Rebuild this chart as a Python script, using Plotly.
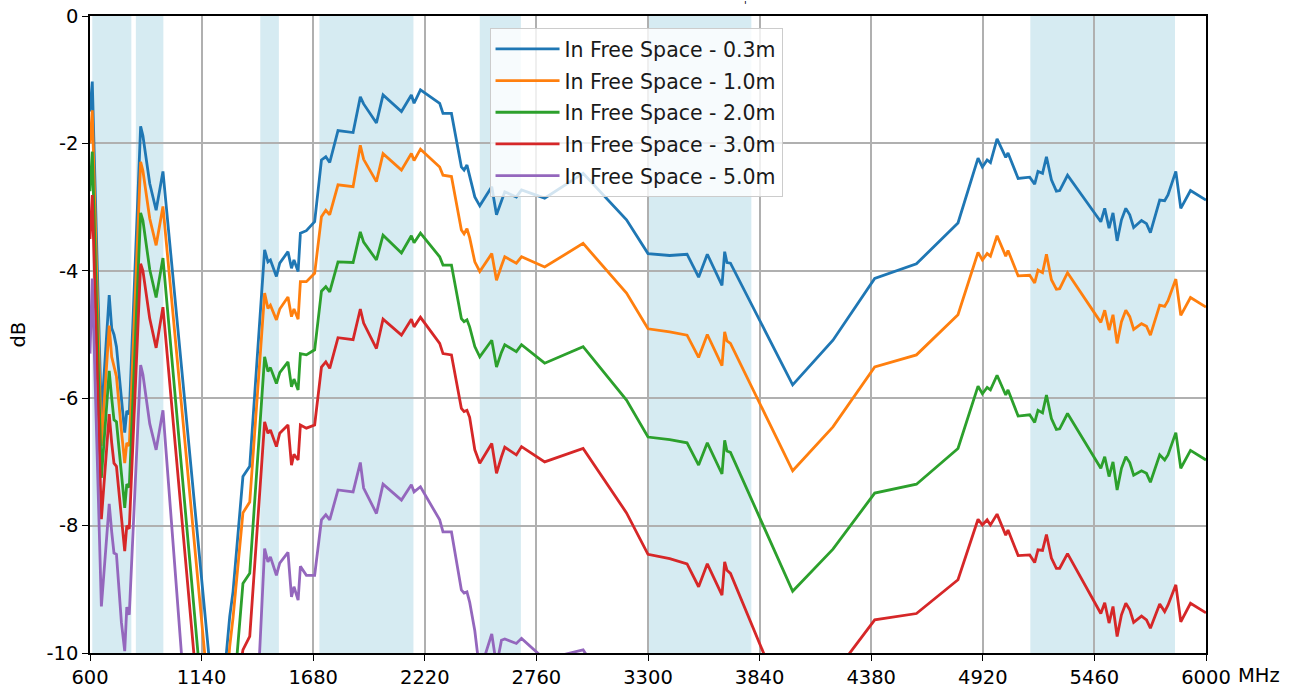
import plotly.graph_objects as go

freq_mhz = [600, 611, 655, 693, 705, 716, 728, 752, 768, 778, 790, 845, 856, 889, 920, 953,
            1218, 1276, 1292, 1340, 1373,
            1445, 1461, 1473, 1502, 1518, 1558, 1575, 1587, 1607, 1618, 1647, 1687,
            1720, 1741, 1760, 1800, 1873, 1908, 1924, 1986, 2018, 2107, 2155, 2168, 2199,
            2292, 2308, 2349, 2397, 2410, 2424, 2437, 2462, 2486, 2544, 2567, 2591, 2607, 2663, 2688, 2800, 2986,
            3196, 3300, 3405, 3489, 3545, 3587, 3658, 3671, 3682, 3699,
            4000, 4195, 4397, 4599, 4800,
            4897, 4918, 4941, 4957, 4989, 5031, 5042, 5091, 5147, 5171, 5187, 5209, 5228, 5252, 5276, 5292, 5330,
            5491, 5510, 5531, 5550, 5570, 5591, 5612, 5631, 5650, 5688, 5712, 5731, 5776, 5800, 5816, 5854, 5878, 5925, 6000]

loss_0_3m = [-1.50, -1.03, -6.30, -4.38, -4.90, -5.00, -5.19, -6.04, -6.54, -6.20, -6.25, -1.73, -1.88, -2.63, -3.05, -2.44,
             -11.5, -9.43, -9.04, -7.23, -7.07,
             -3.67, -3.86, -3.83, -4.09, -3.88, -3.70, -3.96, -3.83, -4.01, -3.41, -3.37, -3.23,
             -2.26, -2.21, -2.30, -1.80, -1.83, -1.27, -1.38, -1.68, -1.24, -1.50, -1.24, -1.37, -1.16,
             -1.37, -1.53, -1.53, -2.37, -2.42, -2.34, -2.50, -2.84, -2.98, -2.68, -3.12, -2.89, -2.76, -2.84, -2.73, -2.86, -2.47,
             -3.20, -3.73, -3.76, -3.74, -4.10, -3.74, -4.23, -3.70, -3.87, -3.88,
             -5.79, -5.09, -4.12, -3.89, -3.25,
             -2.23, -2.37, -2.26, -2.30, -1.93, -2.22, -2.15, -2.55, -2.53, -2.64, -2.44, -2.47, -2.21, -2.57, -2.75, -2.74, -2.50,
             -3.23, -3.02, -3.33, -3.09, -3.53, -3.20, -3.02, -3.12, -3.32, -3.21, -3.26, -3.40, -2.89, -2.90, -2.81, -2.44, -3.02, -2.74, -2.89]

loss_1_0m = [-2.00, -1.48, -6.75, -4.86, -5.35, -5.50, -5.66, -6.51, -7.02, -6.70, -6.75, -2.29, -2.43, -3.18, -3.60, -2.99,
             -12.2, -9.90, -9.45, -7.80, -7.63,
             -4.35, -4.59, -4.54, -4.77, -4.60, -4.41, -4.72, -4.60, -4.76, -4.17, -4.17, -4.04,
             -3.15, -3.05, -3.12, -2.65, -2.68, -2.03, -2.25, -2.60, -2.16, -2.42, -2.16, -2.27, -2.09,
             -2.37, -2.50, -2.52, -3.36, -3.42, -3.34, -3.48, -3.86, -4.01, -3.73, -4.15, -3.92, -3.78, -3.88, -3.78, -3.94, -3.57,
             -4.35, -4.91, -4.96, -5.01, -5.36, -5.00, -5.49, -4.96, -5.10, -5.14,
             -7.14, -6.45, -5.51, -5.32, -4.69,
             -3.71, -3.83, -3.73, -3.77, -3.45, -3.77, -3.68, -4.08, -4.07, -4.19, -3.99, -4.03, -3.74, -4.14, -4.29, -4.28, -4.03,
             -4.81, -4.62, -4.93, -4.69, -5.14, -4.80, -4.62, -4.72, -4.92, -4.83, -4.87, -5.01, -4.54, -4.56, -4.47, -4.13, -4.70, -4.42, -4.57]

loss_2_0m = [-2.75, -2.13, -7.25, -5.57, -6.00, -6.34, -6.37, -7.25, -7.72, -7.35, -7.40, -3.09, -3.21, -3.98, -4.42, -3.80,
             -13.5, -11.3, -10.8, -8.91, -8.75,
             -5.35, -5.58, -5.52, -5.77, -5.60, -5.43, -5.82, -5.70, -5.87, -5.30, -5.32, -5.24,
             -4.32, -4.25, -4.33, -3.86, -3.87, -3.39, -3.55, -3.83, -3.44, -3.72, -3.45, -3.56, -3.41,
             -3.78, -3.91, -3.91, -4.75, -4.80, -4.77, -4.88, -5.19, -5.35, -5.09, -5.51, -5.28, -5.16, -5.27, -5.16, -5.45, -5.19,
             -6.03, -6.61, -6.65, -6.70, -7.05, -6.70, -7.19, -6.66, -6.83, -6.85,
             -9.03, -8.37, -7.49, -7.35, -6.79,
             -5.81, -5.93, -5.83, -5.87, -5.64, -5.95, -5.87, -6.28, -6.26, -6.38, -6.19, -6.23, -5.95, -6.32, -6.49, -6.48, -6.24,
             -7.10, -6.92, -7.23, -7.00, -7.44, -7.10, -6.92, -7.01, -7.21, -7.14, -7.18, -7.32, -6.89, -6.97, -6.89, -6.54, -7.10, -6.82, -6.97]

loss_3_0m = [-3.50, -2.81, -7.90, -6.25, -6.70, -7.02, -7.07, -7.93, -8.40, -8.00, -8.05, -3.89, -4.00, -4.75, -5.21, -4.57,
             -14.2, -11.5, -11.0, -9.95, -9.74,
             -6.37, -6.55, -6.50, -6.76, -6.55, -6.42, -7.05, -6.88, -6.97, -6.42, -6.47, -6.42,
             -5.51, -5.43, -5.53, -5.05, -5.08, -4.60, -4.82, -5.22, -4.76, -5.01, -4.76, -4.88, -4.73,
             -5.14, -5.30, -5.32, -6.16, -6.21, -6.19, -6.30, -6.81, -7.02, -6.71, -7.18, -6.92, -6.77, -6.89, -6.76, -7.00, -6.79,
             -7.80, -8.45, -8.52, -8.60, -8.96, -8.60, -9.09, -8.57, -8.70, -8.75,
             -11.1, -10.35, -9.48, -9.38, -8.85,
             -7.90, -7.99, -7.91, -7.99, -7.82, -8.15, -8.07, -8.47, -8.46, -8.58, -8.38, -8.39, -8.14, -8.51, -8.67, -8.67, -8.44,
             -9.38, -9.21, -9.53, -9.27, -9.74, -9.40, -9.22, -9.32, -9.52, -9.42, -9.48, -9.61, -9.23, -9.35, -9.25, -8.93, -9.51, -9.22, -9.37]

loss_5_0m = [-5.30, -4.12, -9.27, -7.66, -8.10, -8.43, -8.45, -9.52, -9.97, -9.28, -9.40, -5.48, -5.63, -6.40, -6.81, -6.19,
             -17.5, -15.5, -15.0, -14.0, -13.2,
             -8.36, -8.57, -8.49, -8.78, -8.59, -8.42, -9.12, -8.96, -9.17, -8.64, -8.78, -8.78,
             -7.91, -7.83, -7.91, -7.44, -7.47, -7.01, -7.41, -7.81, -7.35, -7.60, -7.36, -7.47, -7.39,
             -7.91, -8.10, -8.10, -9.01, -9.06, -9.04, -9.20, -9.65, -10.3, -9.70, -10.2, -9.80, -9.78, -9.85, -9.77, -10.1, -9.95,
             -11.0, -11.5, -11.6, -11.7, -12.0, -11.7, -12.1, -11.7, -11.8, -11.9,
             -14.5, -14.0, -13.3, -13.3, -12.8,
             -12.0, -12.1, -12.0, -12.1, -11.8, -12.1, -12.0, -12.4, -12.4, -12.5, -12.3, -12.3, -12.1, -12.4, -12.6, -12.6, -12.4,
             -13.2, -13.0, -13.3, -13.1, -13.5, -13.2, -13.0, -13.1, -13.3, -13.2, -13.3, -13.4, -12.9, -13.0, -12.9, -12.6, -13.1, -12.8, -12.9]

series_labels = ["In Free Space - 0.3m", "In Free Space - 1.0m", "In Free Space - 2.0m",
                 "In Free Space - 3.0m", "In Free Space - 5.0m"]
series_values = [loss_0_3m, loss_1_0m, loss_2_0m, loss_3_0m, loss_5_0m]
series_colors = ["#1f77b4", "#ff7f0e", "#2ca02c", "#d62728", "#9467bd"]

band_start_mhz = [611, 822, 1424, 1710, 2486, 3300, 5150]
band_end_mhz = [800, 955, 1514, 2165, 2685, 3800, 5850]

x_tick_vals = [600, 1140, 1680, 2220, 2760, 3300, 3840, 4380, 4920, 5460, 6000]
x_tick_text = ["600", "1140", "1680", "2220", "2760", "3300", "3840", "4380", "4920", "5460", "6000"]
y_tick_vals = [0, -2, -4, -6, -8, -10]
y_tick_text = ["0", "-2", "-4", "-6", "-8", "-10"]

fig = go.Figure()
for label, values, color in zip(series_labels, series_values, series_colors):
    fig.add_trace(go.Scatter(x=freq_mhz, y=values, mode="lines", name=label,
                             legendgroup=label,
                             line=dict(color=color, width=2.8)))

for s, e in zip(band_start_mhz, band_end_mhz):
    fig.add_vrect(x0=s, x1=e, fillcolor="rgba(173,216,230,0.5)", line_width=0, layer="below")

axis_common = dict(showgrid=True, gridcolor="#b0b0b0", gridwidth=1.5, showline=True,
                   linecolor="black", linewidth=1.5, mirror=True, ticks="outside",
                   ticklen=6, tickwidth=1.2, tickcolor="black", zeroline=False,
                   automargin=False, tickfont=dict(size=19.5))

fig.update_xaxes(range=[600, 6000], tickvals=x_tick_vals, ticktext=x_tick_text, **axis_common)
fig.update_yaxes(range=[-10, 0], tickvals=y_tick_vals, ticktext=y_tick_text, **axis_common)

fig.update_layout(
    width=1304, height=693,
    margin=dict(l=90, r=98, t=16, b=40, autoexpand=False),
    plot_bgcolor="white", paper_bgcolor="white",
    font=dict(family="DejaVu Sans", size=19.5, color="black"),
    showlegend=True,
    legend=dict(x=0.358, y=0.981, xanchor="left", yanchor="top",
                bgcolor="rgba(255,255,255,0.8)", bordercolor="#cccccc", borderwidth=1,
                tracegroupgap=2, itemwidth=64, font=dict(size=20.5, color="#1a1a1a")),
    annotations=[
        dict(text="dB", textangle=-90, xref="paper", yref="paper", x=-0.0645, y=0.5,
             showarrow=False, font=dict(size=19.5), xanchor="center", yanchor="middle"),
        dict(text="MHz", xref="paper", yref="paper", x=1.0265, y=-0.036,
             showarrow=False, font=dict(size=19.5), xanchor="left", yanchor="middle"),
        dict(text="'", xref="paper", yref="paper", x=0.587, y=1.017,
             showarrow=False, font=dict(size=10), xanchor="center", yanchor="middle"),
    ],
)

fig.write_html("out.html", config={"displayModeBar": False},
               post_script="document.body.style.margin='0';")
